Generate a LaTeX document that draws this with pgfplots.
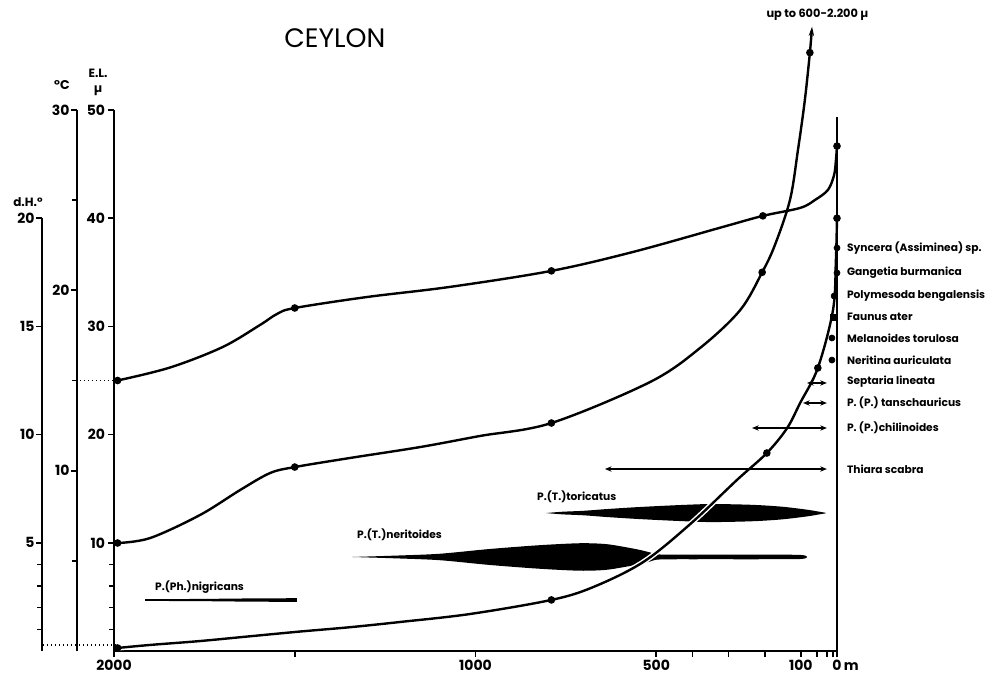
\documentclass[border=0pt]{standalone}
\usepackage{fontspec}
\setmainfont{Poppins}
\usepackage{pgfplots}
\usepackage{pgfplotstable}
\pgfplotsset{compat=1.18}
\usetikzlibrary{arrows.meta}

% temperature (deg C) along distance from the sea (m)
\pgfplotstableread{
m v
1990 15.0
1845 15.72
1700 16.85
1596 18.08
1549 18.69
1500 19.02
1300 19.63
1071 20.19
790 21.08
564 22.13
315 23.52
205 24.13
102 24.57
61 25.01
25 25.57
8 26.4
3 27.2
0 28.0
}\tempC
% electrolytes (mu)
\pgfplotstableread{
m v
1990 9.98
1900 10.44
1762 12.57
1651 14.88
1568 16.45
1500 17.0
1347 17.84
1153 18.85
988 19.87
790 21.07
517 24.86
379 28.0
268 31.5
207 35.0
172 37.5
130 41.7
108 46.3
89 50.9
75 55.3
69 57.7
}\elec
% hardness (d.H.)
\pgfplotstableread{
m v
1990 0.14
1900 0.28
1762 0.46
1624 0.68
1485 0.90
1347 1.10
1209 1.34
1015 1.71
790 2.36
675 2.95
537 4.10
407 5.85
277 7.90
194 9.15
138 10.3
102 11.46
53 13.08
11 15.76
3 18.07
0 20.0
}\hard
% P.(T.) toricatus: outline of the spindle (E.L. units)
\pgfplotstableread{
m v
805 12.75
760 12.87
700 12.96
636 13.12
550 13.30
454 13.46
360 13.58
290 13.56
221 13.49
150 13.33
83 13.06
45 12.85
30 12.75
45 12.65
83 12.44
150 12.17
221 12.01
290 11.94
360 11.92
454 12.04
550 12.20
636 12.38
700 12.54
760 12.63
805 12.75
}\toric
% P.(T.) neritoides
\pgfplotstableread{
m v
1342 8.69
1209 8.83
1098 8.99
960 9.43
822 9.78
711 9.96
642 9.89
592 9.64
545 9.34
517 9.11
490 8.92
379 8.90
213 8.90
102 8.88
83 8.69
102 8.50
213 8.48
379 8.48
490 8.46
517 8.27
545 8.04
592 7.74
642 7.49
711 7.42
822 7.60
960 7.95
1098 8.39
1209 8.55
1342 8.69
}\nerit
% P.(Ph.) nigricans
\pgfplotstableread{
m v
1914 4.79
1762 4.81
1624 4.86
1494 4.88
1494 4.54
1624 4.56
1762 4.61
1914 4.63
}\nigr

\begin{document}
\begin{tikzpicture}
\path[use as bounding box] (0,0) rectangle (744pt,506.25pt);
\pgfplotsset{
  scaleaxis/.style={
    scale only axis, width=1pt,
    xmin=0, xmax=1, axis x line=none, axis y line*=left,
    y axis line style={line width=2.2pt,-},
    major tick style={line width=1.3pt,black},
    minor tick style={line width=1.1pt,black},
    major tick length=4.5pt, minor tick length=3.5pt,
    tick align=outside,
    yticklabel style={font=\fontsize{10.5}{12}\selectfont\bfseries, inner sep=1pt},
    /pgf/number format/assume math mode=true,
  }
}
% d.H. scale
\begin{axis}[scaleaxis, at={(31.5pt,18pt)}, anchor=south west, height=324.6pt,
  ymin=0, ymax=20, ytick={5,10,15,20}, minor ytick={1,2,3,4}]
\end{axis}
% deg C scale
\begin{axis}[scaleaxis, at={(57.75pt,18pt)}, anchor=south west, height=405.75pt,
  ymin=0, ymax=30, ytick={10,20,30}, minor ytick={5,15,25}]
\end{axis}
% main axis (E.L.)
\begin{axis}[scale only axis, at={(85.5pt,18pt)}, anchor=south west,
  width=542.25pt, height=405.75pt, clip=false,
  xmin=0, xmax=2000, x dir=reverse, ymin=0, ymax=50,
  axis x line*=bottom, axis y line*=left,
  x axis line style={line width=2pt,-}, y axis line style={line width=2.2pt,-},
  xtick={0,100,500,1000,2000}, xticklabels={0\rlap{\,m},100,500,1000,2000},
  extra x ticks={1500,400,300,200,55,28,11}, extra x tick labels={},
  ytick={10,20,30,40,50}, minor ytick={2,4,6,8},
  tick align=outside, major tick length=4.5pt, minor tick length=3.5pt,
  major tick style={line width=1.3pt,black},
  minor tick style={line width=1.1pt,black},
  ticklabel style={font=\fontsize{10.5}{12}\selectfont\bfseries, inner sep=2pt},
  /pgf/number format/assume math mode=true,
]
% spindles and bar
\addplot[fill=black, draw=none, smooth, tension=0.5] table[x=m,y=v] {\toric};
\addplot[fill=black, draw=none, smooth, tension=0.5] table[x=m,y=v] {\nerit};
\addplot[fill=black, draw=none] table[x=m,y=v] {\nigr};
% hardness curve with white halo
\addplot[white, line width=4pt, smooth, tension=0.55] table[x=m, y expr=\thisrow{v}*2] {\hard};
\addplot[black, line width=1.8pt, smooth, tension=0.55, mark=*, mark size=1.9pt,
  mark options={fill=black}, mark indices={1,9,14,17,20}] table[x=m, y expr=\thisrow{v}*2] {\hard};
% temperature
\addplot[black, line width=1.8pt, smooth, tension=0.55, mark=*, mark size=1.9pt,
  mark options={fill=black}, mark indices={1,6,9,12,18}] table[x=m, y expr=\thisrow{v}*5/3] {\tempC};
% electrolytes
\addplot[black, line width=1.8pt, smooth, tension=0.55, mark=*, mark size=1.9pt,
  mark options={fill=black}, mark indices={1,6,10,14,19},
  -{Stealth[length=7pt,width=4pt]}] table[x=m, y=v] {\elec};
% right border line
\draw[line width=1.5pt] (axis cs:0,0) -- (axis cs:0,49.35);
% dotted leaders
\draw[dotted, line width=1pt] (axis cs:2116,25) -- (axis cs:1995,25);
\draw[dotted, line width=1pt] (axis cs:2196,0.55) -- (axis cs:1995,0.55);
% species marks
\addplot[only marks, mark=*, mark size=2.3pt, mark options={fill=black}] coordinates {
(0,37.25) (0,34.94) (8,32.81) (14,28.93) (14,26.89)};
\addplot[only marks, mark=square*, mark size=2.2pt, mark options={fill=black}] coordinates {(11,30.87)};
% range arrows
\addplot[line width=1.1pt, {Stealth[length=5pt,width=4pt]}-{Stealth[length=5pt,width=4pt]}] coordinates {(83,24.77) (28,24.77)};
\addplot[line width=1.1pt, {Stealth[length=5pt,width=4pt]}-{Stealth[length=5pt,width=4pt]}] coordinates {(94,22.92) (28,22.92)};
\addplot[line width=1.1pt, {Stealth[length=5pt,width=4pt]}-{Stealth[length=5pt,width=4pt]}] coordinates {(235,20.61) (28,20.61)};
\addplot[line width=1.1pt, {Stealth[length=5pt,width=4pt]}-{Stealth[length=5pt,width=4pt]}] coordinates {(642,16.82) (28,16.82)};
% texts
\node[font=\fontsize{20}{23}\selectfont] at (axis cs:1389,56.65) {CEYLON};
\node[font=\fontsize{8.5}{10}\selectfont\bfseries] at (axis cs:54,58.8) {up to 600-2.200 µ};
\node[font=\fontsize{9.5}{10}\selectfont\bfseries] at (axis cs:2144,52.3) {°C};
\node[font=\fontsize{9}{10}\selectfont\bfseries] at (axis cs:2044,53.4) {E.L.};
\node[font=\fontsize{9}{10}\selectfont\bfseries] at (axis cs:2044,51.8) {µ};
\node[font=\fontsize{9}{10}\selectfont\bfseries] at (axis cs:2238,41.5) {d.H.°};
\begin{scope}[every node/.style={font=\fontsize{8}{9}\selectfont\bfseries, anchor=west, inner sep=0pt}]
\node at (axis cs:-27,37.25) {Syncera (Assiminea) sp.};
\node at (axis cs:-27,34.94) {Gangetia burmanica};
\node at (axis cs:-27,32.81) {Polymesoda bengalensis};
\node at (axis cs:-27,30.87) {Faunus ater};
\node at (axis cs:-27,28.93) {Melanoides torulosa};
\node at (axis cs:-27,26.89) {Neritina auriculata};
\node at (axis cs:-27,24.86) {Septaria lineata};
\node at (axis cs:-27,22.92) {P. (P.) tanschauricus};
\node at (axis cs:-27,20.61) {P. (P.)chilinoides};
\node at (axis cs:-27,16.82) {Thiara scabra};
\node at (axis cs:830,14.23) {P.(T.)toricatus};
\node at (axis cs:1328,10.72) {P.(T.)neritoides};
\node at (axis cs:1887,5.91) {P.(Ph.)nigricans};
\end{scope}
\end{axis}
\end{tikzpicture}
\end{document}
